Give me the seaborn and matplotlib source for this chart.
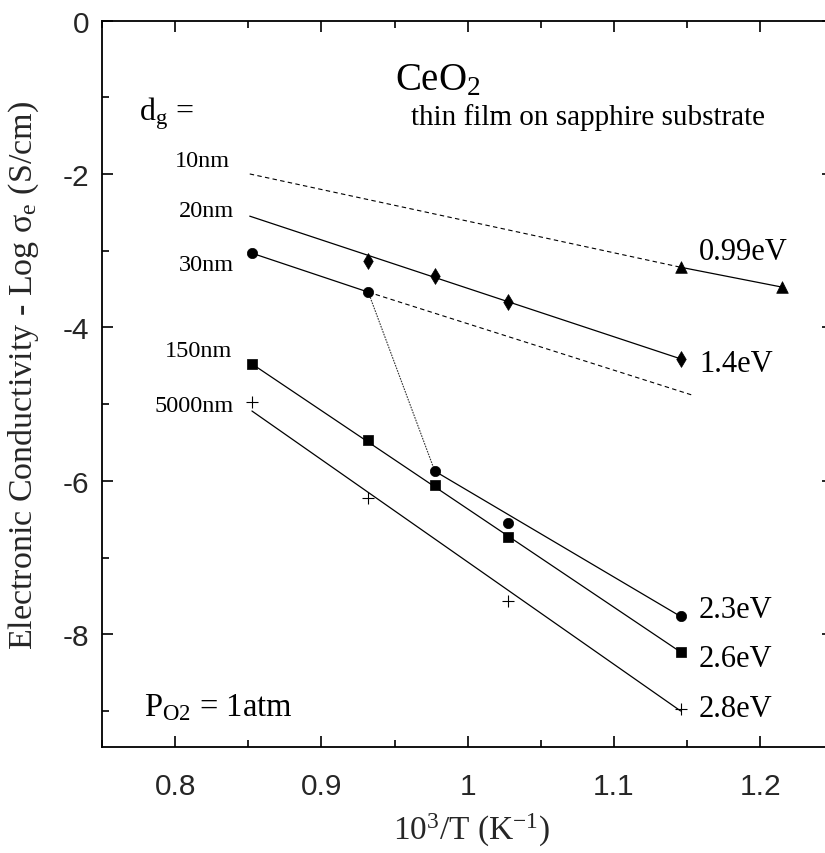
import matplotlib
matplotlib.use("Agg")
import matplotlib.pyplot as plt
import seaborn as sns
import pandas as pd
from matplotlib.ticker import MultipleLocator, FixedLocator, FixedFormatter

# ---------------- data ----------------
film_names = ["10nm", "20nm", "30nm", "150nm", "5000nm"]

x_10nm = [1.1455, 1.2151]
y_10nm = [-3.216, -3.476]

x_20nm = [0.932, 0.9775, 1.0277, 1.1455]
y_20nm = [-3.13, -3.325, -3.668, -4.41]

x_30nm = [0.8525, 0.932, 0.9775, 1.0277, 1.1455]
y_30nm = [-3.033, -3.54, -5.874, -6.547, -7.768]

x_150nm = [0.8525, 0.932, 0.9775, 1.0277, 1.1455]
y_150nm = [-4.476, -5.466, -6.052, -6.726, -8.232]

x_5000nm = [0.8525, 0.932, 1.0277, 1.1455]
y_5000nm = [-4.975, -6.22, -7.568, -8.97]

# fitted / guide lines (end points)
fit_10nm_dash_x = [0.851, 1.1455]
fit_10nm_dash_y = [-2.00, -3.216]
fit_20nm_x = [0.851, 1.1455]
fit_20nm_y = [-2.55, -4.41]
fit_30nm_dash_x = [0.932, 1.153]
fit_30nm_dash_y = [-3.54, -4.88]
fit_30nm_low_x = [0.9775, 1.1455]
fit_30nm_low_y = [-5.874, -7.768]
fit_150nm_x = [0.8525, 1.1455]
fit_150nm_y = [-4.476, -8.232]
fit_5000nm_x = [0.8525, 1.1455]
fit_5000nm_y = [-5.09, -9.00]

energy_labels = ["0.99eV", "1.4eV", "2.3eV", "2.6eV", "2.8eV"]
energy_label_y = [-3.107, -4.567, -7.772, -8.41, -9.06]
energy_label_x = 1.158

film_label_x = [0.8375, 0.8405, 0.8400, 0.8390, 0.8400]
film_label_y = [-1.892, -2.547, -3.25, -4.37, -5.088]

xtick_vals = [0.8, 0.9, 1.0, 1.1, 1.2]
xtick_labels = ["0.8", "0.9", "1", "1.1", "1.2"]
ytick_vals = [0, -2, -4, -6, -8]
ytick_labels = ["0", "-2", "-4", "-6", "-8"]

# ---------------- style ----------------
sns.set_theme(style="ticks")
plt.rcParams.update({
    "font.family": ["Liberation Serif", "DejaVu Serif"],
    "mathtext.fontset": "custom",
    "mathtext.rm": "Liberation Serif",
    "mathtext.it": "Liberation Serif:italic",
    "mathtext.bf": "Liberation Serif:bold",
    "axes.unicode_minus": False,
    "axes.edgecolor": "black",
    "axes.linewidth": 1.3,
    "text.color": "black",
})

fig = plt.figure(figsize=(8.25, 8.54), dpi=100)
ax = fig.add_axes([0.1236, 0.1241, 0.8867, 0.8507])

# ---------------- markers via seaborn ----------------
rows = []
for name, xs, ys in zip(film_names,
                        [x_10nm, x_20nm, x_30nm, x_150nm, x_5000nm],
                        [y_10nm, y_20nm, y_30nm, y_150nm, y_5000nm]):
    for xv, yv in zip(xs, ys):
        rows.append({"film": name, "x": xv, "y": yv})
df = pd.DataFrame(rows)

marker_map = {"10nm": "^", "20nm": "d", "30nm": "o", "150nm": "s", "5000nm": "+"}
size_map = {"10nm": 70, "20nm": 65, "30nm": 55, "150nm": 55, "5000nm": 70}

for name in film_names:
    sub = df[df.film == name]
    if marker_map[name] == "+":
        sns.scatterplot(data=sub, x="x", y="y", marker="+", s=size_map[name],
                        color="black", linewidth=0.8, ax=ax, legend=False, zorder=3)
    else:
        sns.scatterplot(data=sub, x="x", y="y", marker=marker_map[name],
                        s=size_map[name], color="black", edgecolor="black",
                        linewidth=0.5, ax=ax, legend=False, zorder=3)

# ---------------- lines ----------------
lw = 0.9
ax.plot(fit_10nm_dash_x, fit_10nm_dash_y, color="black", lw=0.8, ls=(0, (4, 3)))
ax.plot(x_10nm, y_10nm, color="black", lw=lw)
ax.plot(fit_20nm_x, fit_20nm_y, color="black", lw=lw)
ax.plot(x_30nm[:2], y_30nm[:2], color="black", lw=lw)
ax.plot(fit_30nm_dash_x, fit_30nm_dash_y, color="black", lw=0.8, ls=(0, (4, 3)))
ax.plot(x_30nm[1:3], y_30nm[1:3], color="#333333", lw=0.8, ls=(0, (1.5, 1)))
ax.plot(fit_30nm_low_x, fit_30nm_low_y, color="black", lw=lw)
ax.plot(fit_150nm_x, fit_150nm_y, color="black", lw=lw)
ax.plot(fit_5000nm_x, fit_5000nm_y, color="black", lw=lw)

# ---------------- axes ----------------
ax.set_xlim(0.75, 1.25)
ax.set_ylim(-9.47, 0)
ax.xaxis.set_major_locator(FixedLocator(xtick_vals))
ax.xaxis.set_major_formatter(FixedFormatter(xtick_labels))
ax.xaxis.set_minor_locator(MultipleLocator(0.05))
ax.yaxis.set_major_locator(FixedLocator(ytick_vals))
ax.yaxis.set_major_formatter(FixedFormatter(ytick_labels))
ax.yaxis.set_minor_locator(MultipleLocator(1))
ax.tick_params(which="both", direction="in", top=True, right=True,
               width=1.2, color="black")
ax.tick_params(which="major", length=8)
ax.tick_params(which="minor", length=5)
ax.tick_params(axis="x", which="major", pad=18)
ax.tick_params(axis="y", which="major", pad=9)
for lab in ax.get_xticklabels() + ax.get_yticklabels():
    lab.set_fontfamily("Liberation Sans")
    lab.set_fontsize(21.5)

ax.set_xlabel(r"10$^3$/T (K$^{-1}$)", fontsize=24)
ax.set_ylabel(r"Electronic Conductivity - Log σ$_\mathrm{e}$ (S/cm)", fontsize=24.5)
ax.xaxis.set_label_coords(0.505, -0.088)
ax.yaxis.set_label_coords(-0.083, 0.513)

# ---------------- annotations ----------------
ax.text(0.950, -0.892, r"CeO$_2$", fontsize=28, va="baseline", ha="left")
ax.text(0.961, -1.35, "thin film on sapphire substrate", fontsize=21,
        va="baseline", ha="left")
ax.text(0.7754, -1.29, r"d$_\mathrm{g}$ =", fontsize=23, va="baseline", ha="left")
for lab, xv, yv in zip(film_names, film_label_x, film_label_y):
    ax.text(xv, yv, lab, fontsize=17.5, va="baseline", ha="right")
for lab, yv in zip(energy_labels, energy_label_y):
    ax.text(energy_label_x, yv, lab, fontsize=22, va="baseline", ha="left")
ax.text(0.7788, -9.06, r"P$_\mathrm{O2}$ = 1atm", fontsize=23.5,
        va="baseline", ha="left")

fig.savefig("out.png", dpi=100)
